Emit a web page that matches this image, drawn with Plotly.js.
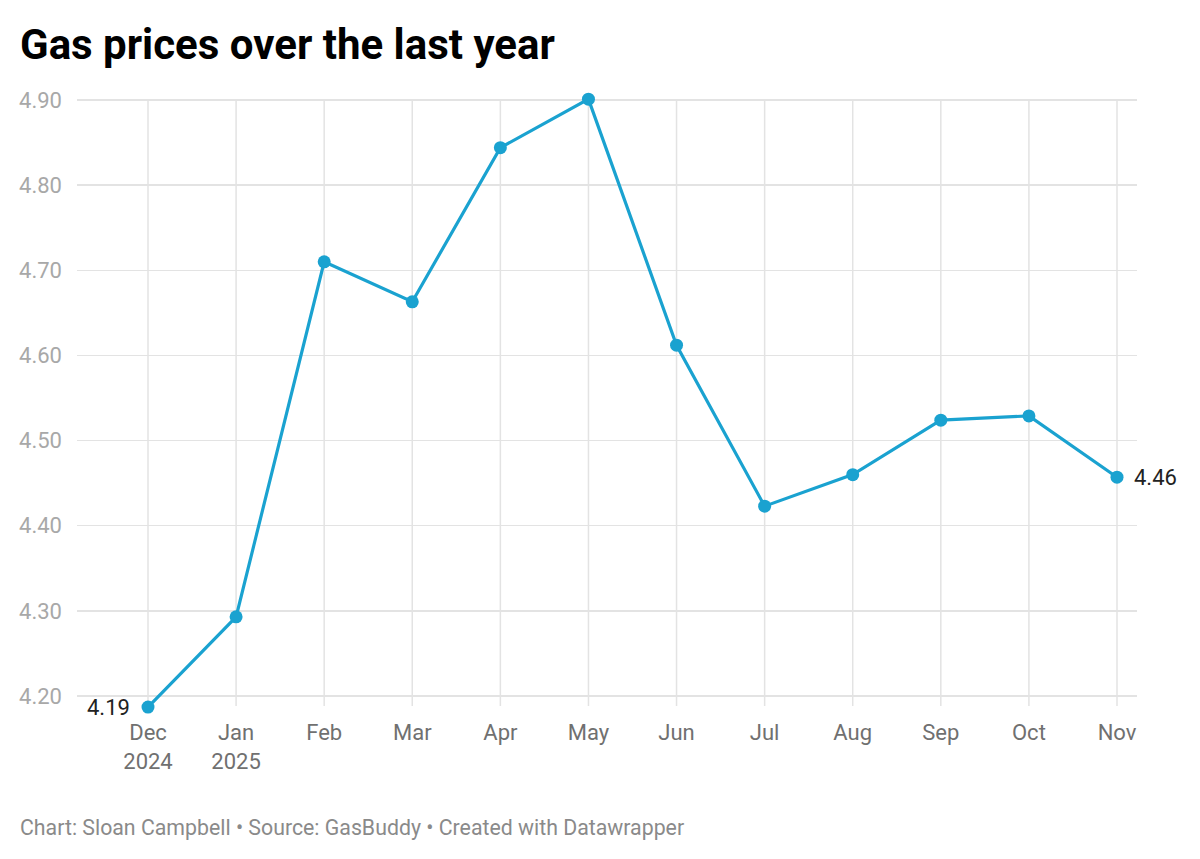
<!DOCTYPE html>
<html>
<head>
<meta charset="utf-8">
<script src="https://cdn.plot.ly/plotly-3.0.1.min.js"></script>
<style>
html,body{margin:0;padding:0;background:#fff;}
#chart{width:1200px;height:859px;}
</style>
</head>
<body>
<div id="chart"></div>
<script>
const months = ["Dec", "Jan", "Feb", "Mar", "Apr", "May", "Jun", "Jul", "Aug", "Sep", "Oct", "Nov"];
const tickLabels = ["Dec<br>2024", "Jan<br>2025", "Feb", "Mar", "Apr", "May", "Jun", "Jul", "Aug", "Sep", "Oct", "Nov"];
const prices = [4.187, 4.293, 4.710, 4.663, 4.844, 4.901, 4.612, 4.423, 4.460, 4.524, 4.529, 4.457];
const yTicks = [4.20, 4.30, 4.40, 4.50, 4.60, 4.70, 4.80, 4.90];

const idx = months.map((_, i) => i);
const last = prices.length - 1;

const trace = {
  x: idx,
  y: prices,
  type: "scatter",
  mode: "lines+markers",
  line: {color: "#1aa2d0", width: 3.2},
  marker: {color: "#1aa2d0", size: 13},
  cliponaxis: false,
  hoverinfo: "skip"
};

// vertical gridlines spanning from just below the lowest tick to the top tick
const vGrid = idx.map(i => ({
  type: "line", xref: "x", yref: "y",
  x0: i, x1: i, y0: 4.1883, y1: yTicks[yTicks.length - 1],
  line: {color: "#e3e3e3", width: 1.5},
  layer: "below"
}));

const labelFont = {family: "Roboto, sans-serif", size: 22, color: "#222"};

const layout = {
  width: 1200,
  height: 859,
  margin: {l: 77, r: 63, t: 87, b: 147},
  paper_bgcolor: "#fff",
  plot_bgcolor: "#fff",
  showlegend: false,
  font: {family: "Roboto, sans-serif"},
  title: {
    text: "<b>Gas prices over the last year</b>",
    font: {family: "Roboto, sans-serif", size: 42, color: "#000"},
    x: 0, xref: "paper", xanchor: "left",
    y: 1, yref: "container", yanchor: "top",
    pad: {t: 30, l: -57}
  },
  xaxis: {
    range: [-0.806, 11.227],
    tickvals: idx,
    ticktext: tickLabels,
    showgrid: false,
    zeroline: false,
    showline: false,
    ticks: "",
    ticklabelstandoff: 5,
    tickfont: {family: "Roboto, sans-serif", size: 22, color: "#707070"},
    fixedrange: true
  },
  yaxis: {
    range: [4.1812, 4.9153],
    tickvals: yTicks,
    ticktext: yTicks.map(v => v.toFixed(2)),
    showgrid: true,
    gridcolor: "#e3e3e3",
    gridwidth: 1.5,
    zeroline: false,
    showline: false,
    ticks: "",
    ticklabelstandoff: 14,
    tickfont: {family: "Roboto, sans-serif", size: 22, color: "#a8a8a8"},
    fixedrange: true
  },
  shapes: vGrid,
  annotations: [
    {
      text: prices[0].toFixed(2),
      xref: "x", yref: "y", x: idx[0], y: prices[0],
      xanchor: "right", yanchor: "middle", xshift: -16,
      showarrow: false, font: labelFont
    },
    {
      text: prices[last].toFixed(2),
      xref: "x", yref: "y", x: idx[last], y: prices[last],
      xanchor: "left", yanchor: "middle", xshift: 15,
      showarrow: false, font: labelFont
    },
    {
      text: "Chart: Sloan Campbell • Source: GasBuddy • Created with Datawrapper",
      xref: "paper", yref: "paper",
      x: 0, xanchor: "left", xshift: -59,
      y: 0, yanchor: "middle", yshift: -115,
      showarrow: false,
      font: {family: "Roboto, sans-serif", size: 21.3, color: "#8a8a8a"}
    }
  ]
};

Plotly.newPlot("chart", [trace], layout, {displayModeBar: false, staticPlot: true});
</script>
</body>
</html>
